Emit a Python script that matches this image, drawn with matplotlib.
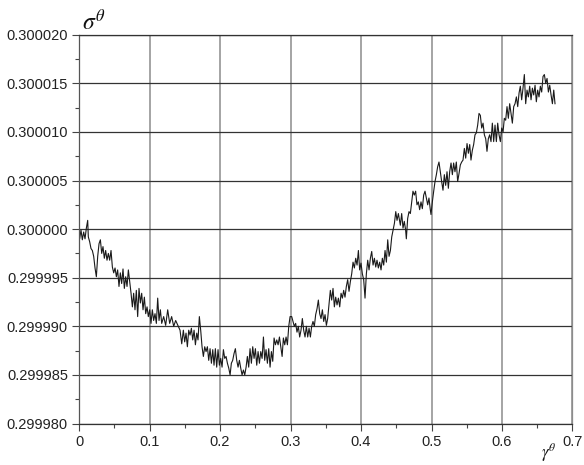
import numpy as np
import matplotlib
matplotlib.use('Agg')
import matplotlib.pyplot as plt

# gamma^theta values
gamma_a = [0.0000, 0.0009, 0.0028, 0.0047, 0.0066, 0.0085, 0.0104, 0.0123, 0.0132, 0.0151,
           0.0170, 0.0189, 0.0208, 0.0227, 0.0246, 0.0265, 0.0284, 0.0303, 0.0322, 0.0340,
           0.0359, 0.0378, 0.0397, 0.0416, 0.0435, 0.0454, 0.0473, 0.0492, 0.0511, 0.0530,
           0.0548, 0.0567, 0.0586, 0.0605, 0.0624, 0.0643, 0.0662, 0.0681, 0.0700, 0.0719,
           0.0738, 0.0757, 0.0775, 0.0794, 0.0813, 0.0832, 0.0851, 0.0870, 0.0889, 0.0908,
           0.0927, 0.0946, 0.0965, 0.0983, 0.1002, 0.1021, 0.1040, 0.1059, 0.1078, 0.1097,
           0.1116, 0.1135, 0.1154, 0.1173, 0.1201, 0.1229, 0.1258, 0.1286, 0.1314, 0.1343,
           0.1371]
# sigma^theta - 0.3, in units of 1e-6
dev_a = [0.9, -1.0, -0.1, -1.1, -0.3, -1.0, 0.1, 0.9, -0.8, -1.3,
         -2.0, -2.2, -2.8, -4.0, -4.9, -2.8, -1.5, -1.1, -2.5, -1.8,
         -3.0, -2.2, -3.2, -2.5, -3.2, -2.2, -3.9, -4.5, -4.0, -4.9,
         -4.2, -5.9, -4.5, -5.6, -4.1, -6.1, -4.9, -5.9, -4.2, -5.4,
         -6.6, -8.0, -6.6, -8.3, -6.3, -9.0, -6.1, -7.6, -6.6, -8.3,
         -7.0, -8.7, -8.0, -9.0, -8.3, -9.7, -8.3, -9.4, -8.7, -9.7,
         -7.1, -9.4, -8.3, -9.7, -9.0, -9.9, -8.3, -9.7, -9.0, -10.0,
         -9.4]

gamma_b = [0.1433, 0.1457, 0.1480, 0.1499, 0.1518, 0.1537, 0.1556, 0.1575, 0.1594, 0.1613,
           0.1632, 0.1651, 0.1670, 0.1688, 0.1707, 0.1726, 0.1745, 0.1764, 0.1783, 0.1802,
           0.1821, 0.1840, 0.1859, 0.1878, 0.1897, 0.1915, 0.1934, 0.1953, 0.1972, 0.1991,
           0.2010, 0.2029, 0.2048, 0.2067, 0.2086, 0.2105, 0.2124, 0.2143, 0.2161, 0.2180,
           0.2199, 0.2218, 0.2237, 0.2256, 0.2275, 0.2294, 0.2313, 0.2332, 0.2351, 0.2370,
           0.2388, 0.2407, 0.2426, 0.2445, 0.2464, 0.2483, 0.2502, 0.2521, 0.2540, 0.2559,
           0.2578, 0.2597, 0.2616, 0.2634, 0.2653, 0.2672, 0.2691, 0.2710, 0.2729, 0.2748,
           0.2767, 0.2786, 0.2805, 0.2824, 0.2843, 0.2862, 0.2881, 0.2899, 0.2918, 0.2937,
           0.2956, 0.2975, 0.2994]
dev_b = [-10.4, -11.8, -10.4, -11.6, -10.7, -12.1, -10.4, -10.9, -10.2, -11.4,
         -10.4, -11.9, -10.7, -11.4, -9.0, -10.4, -12.1, -13.1, -12.1, -12.6,
         -12.1, -13.5, -12.3, -13.8, -12.4, -14.0, -12.3, -14.2, -12.4, -14.0,
         -13.3, -14.2, -12.4, -13.3, -13.1, -13.8, -14.3, -15.0, -13.8, -13.5,
         -12.8, -12.3, -13.5, -14.2, -13.5, -14.3, -15.0, -14.5, -15.0, -14.2,
         -13.1, -14.2, -12.3, -13.8, -12.1, -13.3, -12.3, -14.0, -12.6, -13.8,
         -12.6, -13.3, -11.1, -13.5, -12.4, -13.8, -12.3, -14.2, -12.6, -13.6,
         -11.2, -11.9, -11.4, -11.9, -11.1, -12.1, -13.1, -11.2, -11.9, -11.1,
         -11.9, -10.0, -9.0]

gamma_c = [0.3017, 0.3036, 0.3054, 0.3073, 0.3092, 0.3111, 0.3130, 0.3149, 0.3168, 0.3187,
           0.3206, 0.3225, 0.3244, 0.3263, 0.3282, 0.3300, 0.3319, 0.3338, 0.3357, 0.3376,
           0.3395, 0.3414, 0.3433, 0.3452, 0.3471, 0.3490, 0.3509, 0.3527, 0.3546, 0.3565,
           0.3584, 0.3603, 0.3622, 0.3641, 0.3660, 0.3679, 0.3698, 0.3717, 0.3736, 0.3754,
           0.3773, 0.3792, 0.3811, 0.3830, 0.3849, 0.3868, 0.3887, 0.3906, 0.3925, 0.3944,
           0.3963, 0.3981, 0.4000, 0.4019, 0.4038, 0.4057, 0.4076, 0.4095, 0.4114, 0.4133,
           0.4152, 0.4171, 0.4190, 0.4209, 0.4227, 0.4246, 0.4265, 0.4284, 0.4303, 0.4322,
           0.4341, 0.4360, 0.4379, 0.4398, 0.4417, 0.4436, 0.4455, 0.4474, 0.4493, 0.4511,
           0.4530]
dev_c = [-9.0, -9.5, -10.0, -9.7, -10.6, -10.0, -11.1, -10.4, -9.2, -10.4,
         -11.1, -10.0, -11.1, -10.2, -11.1, -10.0, -9.5, -10.0, -8.8, -8.2,
         -7.3, -8.7, -9.2, -8.3, -9.5, -8.8, -9.9, -9.2, -7.8, -6.3,
         -7.3, -6.1, -8.0, -7.0, -7.8, -7.1, -8.0, -6.6, -7.1, -6.3,
         -7.0, -5.9, -5.2, -6.4, -5.4, -4.6, -3.4, -4.0, -3.0, -3.7,
         -2.2, -4.2, -3.5, -4.6, -5.2, -7.1, -4.6, -3.2, -4.2, -3.0,
         -2.3, -3.7, -3.0, -3.9, -3.2, -4.0, -3.4, -4.2, -3.0, -3.7,
         -2.2, -3.4, -1.1, -2.8, -2.2, -0.8, -0.1, 0.6, 1.8, 0.9,
         1.6]

gamma_d = [0.4558, 0.4577, 0.4596, 0.4614, 0.4633, 0.4643, 0.4662, 0.4681, 0.4700, 0.4719,
           0.4737, 0.4756, 0.4775, 0.4794, 0.4813, 0.4832, 0.4851, 0.4870, 0.4889, 0.4908,
           0.4927, 0.4946, 0.4964, 0.4983, 0.4993, 0.5012, 0.5031, 0.5050, 0.5069, 0.5087,
           0.5106, 0.5125, 0.5144, 0.5163, 0.5182, 0.5201, 0.5220, 0.5239, 0.5258, 0.5277,
           0.5296, 0.5314, 0.5333, 0.5352, 0.5371, 0.5390, 0.5409, 0.5428, 0.5447, 0.5466,
           0.5485, 0.5504, 0.5523, 0.5542, 0.5560, 0.5579, 0.5598, 0.5617, 0.5636, 0.5655,
           0.5674, 0.5693, 0.5712, 0.5731, 0.5750, 0.5769, 0.5787, 0.5806, 0.5825, 0.5844,
           0.5863, 0.5882, 0.5901, 0.5920, 0.5939, 0.5958, 0.5977, 0.5996, 0.6015, 0.6033]
dev_d = [0.4, 1.6, 0.1, 0.8, -0.1, -1.0, 1.1, 1.8, 1.6, 2.8,
         3.9, 3.5, 3.9, 2.5, 2.8, 2.0, 2.8, 2.1, 3.5, 3.9,
         3.2, 2.5, 3.2, 2.0, 1.5, 2.8, 3.9, 4.9, 5.6, 6.4,
         6.9, 5.9, 4.9, 4.0, 5.6, 4.5, 5.9, 4.2, 5.9, 6.8,
         5.6, 6.8, 5.9, 6.9, 4.9, 5.7, 6.6, 6.9, 7.1, 8.3,
         7.3, 8.8, 7.8, 8.7, 7.1, 8.1, 8.7, 9.7, 9.9, 10.7,
         11.9, 11.7, 10.4, 10.9, 9.7, 9.3, 8.0, 9.3, 9.7, 9.0,
         10.9, 9.0, 10.7, 9.0, 10.9, 9.7, 9.0, 10.4, 10.0, 11.4]

gamma_e = [0.6052, 0.6071, 0.6090, 0.6109, 0.6128, 0.6147, 0.6166, 0.6185, 0.6204, 0.6223,
           0.6242, 0.6260, 0.6279, 0.6298, 0.6317, 0.6336, 0.6355, 0.6374, 0.6393, 0.6412,
           0.6431, 0.6450, 0.6469, 0.6487, 0.6506, 0.6525, 0.6544, 0.6563, 0.6582, 0.6601,
           0.6620, 0.6639, 0.6658, 0.6677, 0.6696, 0.6715, 0.6734, 0.6752]
dev_e = [11.2, 12.6, 11.4, 12.9, 11.9, 10.9, 12.6, 12.9, 13.6, 12.6,
         14.0, 14.7, 13.3, 14.5, 15.9, 12.9, 14.3, 13.6, 14.7, 13.3,
         14.5, 13.8, 14.8, 13.1, 14.3, 13.6, 14.7, 14.1, 15.7, 15.9,
         15.0, 15.5, 14.1, 14.8, 13.8, 12.9, 14.3, 12.9]

x_ticks = [0, 0.1, 0.2, 0.3, 0.4, 0.5, 0.6, 0.7]
x_labels = ['0', '0.1', '0.2', '0.3', '0.4', '0.5', '0.6', '0.7']
y_ticks = [0.29998, 0.299985, 0.29999, 0.299995, 0.3, 0.300005, 0.30001, 0.300015, 0.30002]

plt.rcParams['font.family'] = ['Liberation Sans', 'DejaVu Sans']
plt.rcParams['mathtext.fontset'] = 'stix'

gamma = np.array(gamma_a + gamma_b + gamma_c + gamma_d + gamma_e)
sigma = 0.3 + np.array(dev_a + dev_b + dev_c + dev_d + dev_e) * 1e-6

fig = plt.figure(figsize=(5.84, 4.65), dpi=100)
ax = fig.add_axes([0.1353, 0.0892, 0.845, 0.8362])

ax.plot(gamma, sigma, color='#1a1a1a', linewidth=0.8)

ax.set_xlim(0, 0.7)
ax.set_ylim(0.29998, 0.30002)
ax.set_xticks(x_ticks)
ax.set_xticklabels(x_labels)
ax.set_yticks(y_ticks)
ax.set_yticklabels(['%.6f' % v for v in y_ticks])
ax.set_xticks([0.05 + 0.1 * i for i in range(7)], minor=True)
ax.set_yticks([0.2999825 + 0.000005 * i for i in range(8)], minor=True)

ax.tick_params(which='major', direction='out', length=5, width=0.8,
               color='#444444', labelsize=10.5, labelcolor='#222222', pad=3)
ax.tick_params(which='minor', direction='out', length=3, width=0.8, color='#444444')

# horizontal lines darker than vertical ones, as in the picture
ax.grid(axis='y', which='major', color='#333333', linewidth=0.9)
ax.grid(axis='x', which='major', color='#8c8c8c', linewidth=1.1)

ax.spines['left'].set_color('#555555')
ax.spines['bottom'].set_color('#333333')
ax.spines['top'].set_color('#333333')
ax.spines['right'].set_color('#8c8c8c')
for s in ax.spines.values():
    s.set_linewidth(0.9)

fig.text(0.140, 0.9355, r'$\sigma^{\theta}$', fontsize=17, va='baseline', color='#111111')
fig.text(0.926, 0.003, r'$\gamma^{\theta}$', fontsize=12, va='bottom', color='#111111')

fig.savefig('out.png', dpi=100)
